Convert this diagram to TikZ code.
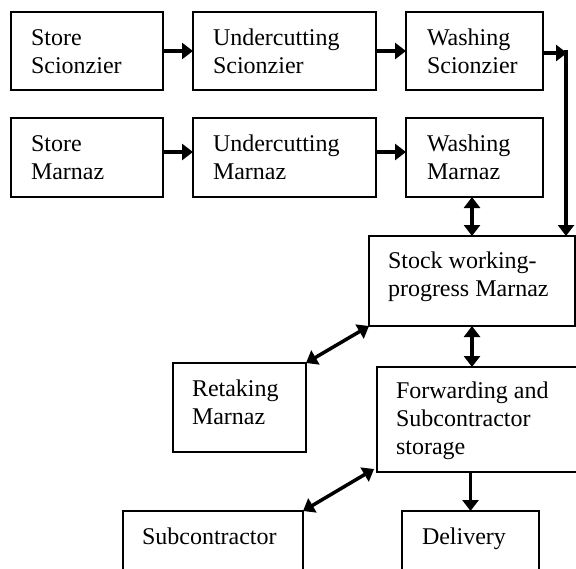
\documentclass[tikz,border=0pt]{standalone}
\usepackage{fontspec}
\setmainfont{Liberation Serif}
\usetikzlibrary{arrows.meta,calc,fit}
\begin{document}
\begin{tikzpicture}[x=0.5pt,y=-0.5pt,
  box/.style={draw, line width=0.75pt, rectangle, inner sep=0pt, outer sep=0pt},
  txt/.style={anchor=north west, inner sep=0pt, outer sep=0pt, align=left, font=\fontsize{12}{14}\selectfont},
  arr/.style={line width=1.75pt, -{Triangle[length=5.5pt,width=8pt]}},
  darr/.style={line width=1.75pt, {Triangle[length=5.5pt,width=8pt]}-{Triangle[length=5.5pt,width=8pt]}}]
\useasboundingbox (0,0) rectangle (576,568);
\fill[white] (0,0) rectangle (576,568);
\clip (0,0) rectangle (576,568);
% boxes
\node[box, fit={(11,12) (163,90)}] (b1) {};
\node[box, fit={(193,12) (376,90)}] (b2) {};
\node[box, fit={(406,12) (543,90)}] (b3) {};
\node[box, fit={(11,118) (163,197)}] (b4) {};
\node[box, fit={(193,118) (376,197)}] (b5) {};
\node[box, fit={(406,118) (543,197)}] (b6) {};
\node[box, fit={(369,236) (575,326)}] (b7) {};
\node[box, fit={(173,363) (306,452)}] (b8) {};
\node[box, fit={(377,367) (590,472)}] (b9) {};
\node[box, fit={(123,511) (303,585)}] (b10) {};
\node[box, fit={(402,511) (539,585)}] (b11) {};
% texts
\node[txt] (t1) at ($(b1.north west)+(20,13.4)$) {\strut Store\\Scionzier};
\node[txt] (t2) at ($(b2.north west)+(20,13.4)$) {\strut Undercutting\\Scionzier};
\node[txt] (t3) at ($(b3.north west)+(21,13.4)$) {\strut Washing\\Scionzier};
\node[txt] (t4) at ($(b4.north west)+(20,13.4)$) {\strut Store\\Marnaz};
\node[txt] (t5) at ($(b5.north west)+(20,13.4)$) {\strut Undercutting\\Marnaz};
\node[txt] (t6) at ($(b6.north west)+(21,13.4)$) {\strut Washing\\Marnaz};
\node[txt] (t7) at ($(b7.north west)+(19,12.4)$) {\strut Stock working-\\progress Marnaz};
\node[txt] (t8) at ($(b8.north west)+(19,14)$) {\strut Retaking\\Marnaz};
\node[txt] (t9) at ($(b9.north west)+(19,11.4)$) {\strut Forwarding and\\Subcontractor\\storage};
\node[txt] (t10) at ($(b10.north west)+(19,14)$) {\strut Subcontractor};
\node[txt] (t11) at ($(b11.north west)+(20,14)$) {\strut Delivery};
% connectors
\coordinate (r1) at (0,51);
\coordinate (r2) at (0,152);
\coordinate (c1) at (567,53);
\coordinate (c2) at (566,50);
\draw[arr] (b1.east |- r1) -- (b2.west |- r1);
\draw[arr] (b2.east |- r1) -- (b3.west |- r1);
\draw[arr] (b4.east |- r2) -- (b5.west |- r2);
\draw[arr] (b5.east |- r2) -- (b6.west |- r2);
\draw[arr] (b3.east |- c1) -- (c1);
\draw[arr] (c2) -- (c2 |- b7.north);
\draw[darr] (b6.south -| b7.north) -- (b7.north);
\draw[darr] (b7.south) -- (b7.south |- b9.north);
\draw[darr] (b8.north east) -- (b7.south west);
\draw[darr] (b10.north east) -- ($(b9.south west)+(-3,-3)$);
\draw[arr] (b11.north |- b9.south) -- (b11.north);
\end{tikzpicture}
\end{document}
